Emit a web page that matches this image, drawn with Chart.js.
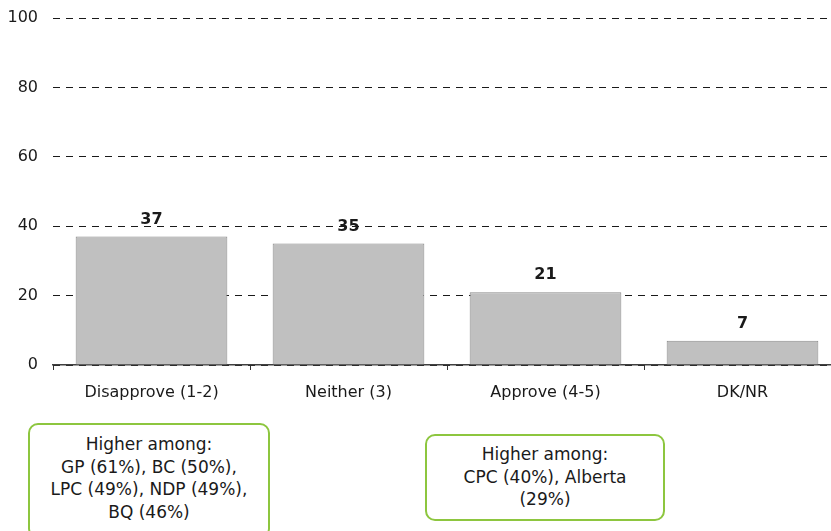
<!DOCTYPE html>
<html lang="en">
  <head>
    <title>Approval chart</title>
    <meta charset="UTF-8" />
    <style>
      html, body { margin: 0; padding: 0; background: #fff; }
      body { width: 831px; height: 531px; overflow: hidden; position: relative; }
      #wrap { position: absolute; left: 0; top: 0; width: 850px; height: 531px; }
      .note {
        position: absolute;
        box-sizing: border-box;
        border: 2.5px solid #8dc63f;
        border-radius: 10px;
        background: #fff;
        text-align: center;
        font-family: "DejaVu Sans", sans-serif;
        font-size: 17px;
        line-height: 22.5px;
        color: #1a1a1a;
      }
      #note1 { left: 28px; top: 423px; width: 242px; height: 116px; padding-top: 8px; }
      #note2 { left: 425px; top: 434px; width: 240px; height: 87px; padding-top: 7px; }
    </style>
  </head>
  <body>
    <div id="wrap">
      <canvas id="myChart" width="850" height="531"></canvas>
    </div>
    <div class="note" id="note1"></div>
    <div class="note" id="note2"></div>

    <script src="https://cdn.jsdelivr.net/npm/chart.js@4"></script>
    <script>
      var categories = ["Disapprove (1-2)", "Neither (3)", "Approve (4-5)", "DK/NR"];
      var values = [37, 35, 21, 7];
      var yTicks = [0, 20, 40, 60, 80, 100];
      var note1Lines = ["Higher among:", "GP (61%), BC (50%),", "LPC (49%), NDP (49%),", "BQ (46%)"];
      var note2Lines = ["Higher among:", "CPC (40%), Alberta", "(29%)"];

      document.getElementById("note1").innerHTML = note1Lines.join("<br>");
      document.getElementById("note2").innerHTML = note2Lines.join("<br>");

      // numbers above the bars
      var barLabels = {
        id: "barLabels",
        afterDatasetsDraw: function (chart) {
          var ctx = chart.ctx;
          var meta = chart.getDatasetMeta(0);
          ctx.save();
          ctx.font = "bold 16px 'DejaVu Sans', sans-serif";
          ctx.fillStyle = "#1a1a1a";
          ctx.textAlign = "center";
          ctx.textBaseline = "bottom";
          meta.data.forEach(function (bar, i) {
            ctx.fillText(values[i], bar.x, bar.y - 9);
          });
          ctx.restore();
        },
      };

      var ctx = document.getElementById("myChart");
      var myChart = new Chart(ctx, {
        type: "bar",
        data: {
          labels: categories,
          datasets: [
            {
              data: values,
              backgroundColor: "#c0c0c0",
              borderColor: "#8a8a8a",
              borderWidth: 1,
              barPercentage: 0.77,
              categoryPercentage: 1,
            },
          ],
        },
        options: {
          responsive: false,
          animation: false,
          layout: { padding: { top: 18, right: 9, bottom: 126, left: 0 } },
          plugins: { legend: { display: false }, tooltip: { enabled: false } },
          scales: {
            x: {
              afterFit: function (s) { s.height = 40; },
              grid: {
                offset: true,
                drawOnChartArea: false,
                drawTicks: true,
                tickLength: 5,
                color: "#333",
              },
              border: { display: true, color: "#404040", width: 1.5 },
              ticks: {
                padding: 13,
                color: "#1a1a1a",
                font: { family: "'DejaVu Sans', sans-serif", size: 16 },
              },
            },
            y: {
              min: 0,
              max: 100,
              afterFit: function (s) {
                s.width = 53;
                s.paddingTop = 8;
                s.paddingBottom = 8;
              },
              afterBuildTicks: function (s) {
                s.ticks = yTicks.map(function (v) { return { value: v }; });
              },
              grid: { drawTicks: false, color: "#1a1a1a", lineWidth: 1 },
              border: { display: false, dash: [7, 6] },
              ticks: {
                padding: 15,
                color: "#1a1a1a",
                font: { family: "'DejaVu Sans', sans-serif", size: 16 },
              },
            },
          },
        },
        plugins: [barLabels],
      });
    </script>
  </body>
</html>
